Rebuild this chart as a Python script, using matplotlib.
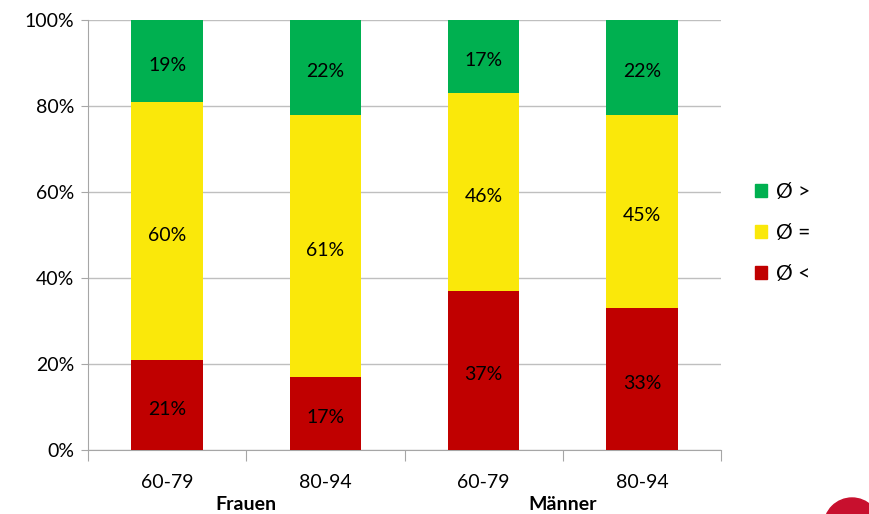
import matplotlib.pyplot as plt
from matplotlib.patches import Circle, Patch
import numpy as np

plt.rcParams['font.family'] = ['Lato', 'DejaVu Sans']

# Data
age_groups = ["60-79", "80-94", "60-79", "80-94"]
sex_groups = ["Frauen", "Männer"]
below = [21, 17, 37, 33]
equal = [60, 61, 46, 45]
above = [19, 22, 17, 22]

col_below = "#C00000"
col_equal = "#FAE80A"
col_above = "#00B050"

fig = plt.figure(figsize=(8.70, 5.14), dpi=100)
ax = fig.add_axes([0.101, 0.1245, 0.728, 0.8365])

x = np.arange(len(age_groups))
w = 0.45
ax.bar(x, below, w, color=col_below, zorder=3)
ax.bar(x, equal, w, bottom=below, color=col_equal, zorder=3)
bottom3 = np.array(below) + np.array(equal)
ax.bar(x, above, w, bottom=bottom3, color=col_above, zorder=3)

# value labels
fs = 14
for i in range(len(x)):
    ax.text(x[i], below[i] / 2 - 1, f"{below[i]}%", ha="center", va="center", fontsize=fs, zorder=4)
    ax.text(x[i], below[i] + equal[i] / 2 - 1, f"{equal[i]}%", ha="center", va="center", fontsize=fs, zorder=4)
    ax.text(x[i], bottom3[i] + above[i] / 2 - 1, f"{above[i]}%", ha="center", va="center", fontsize=fs, zorder=4)

ax.set_xlim(-0.5, len(x) - 0.5)
ax.set_ylim(0, 100)
ax.set_yticks(range(0, 101, 20))
ax.set_yticklabels([f"{v}%" for v in range(0, 101, 20)], fontsize=fs)
ax.yaxis.grid(True, color="#BFBFBF", linewidth=1, zorder=0)

# category ticks at boundaries, labels in the middle
ax.set_xticks(np.arange(-0.5, len(x), 1.0))
ax.set_xticklabels([])
ax.set_xticks(x, minor=True)
ax.set_xticklabels(age_groups, minor=True, fontsize=fs)
ax.tick_params(axis="x", which="major", length=8, color="#A6A6A6")
ax.tick_params(axis="x", which="minor", length=0, pad=17)
ax.tick_params(axis="y", length=5, color="#A6A6A6", pad=5)

for s in ["top", "right"]:
    ax.spines[s].set_visible(False)
for s in ["left", "bottom"]:
    ax.spines[s].set_color("#A6A6A6")

# group labels
for gi, g in enumerate(sex_groups):
    ax.text(2 * gi + 0.5, -0.126, g, transform=ax.get_xaxis_transform(),
            ha="center", va="center", fontsize=fs, fontweight="bold")

handles = [Patch(color=col_above), Patch(color=col_equal), Patch(color=col_below)]
labels = ["Ø >", "Ø =", "Ø <"]
fig.legend(handles, labels, loc="center left", bbox_to_anchor=(0.846, 0.547),
           frameon=False, fontsize=15, handlelength=0.6, handleheight=0.6,
           handletextpad=0.4, labelspacing=1.0)

# partial logo at the bottom right
fig.patches.append(Circle((852, -12), 28, transform=None, color="#C8102E"))

fig.savefig("out.png", dpi=100)
